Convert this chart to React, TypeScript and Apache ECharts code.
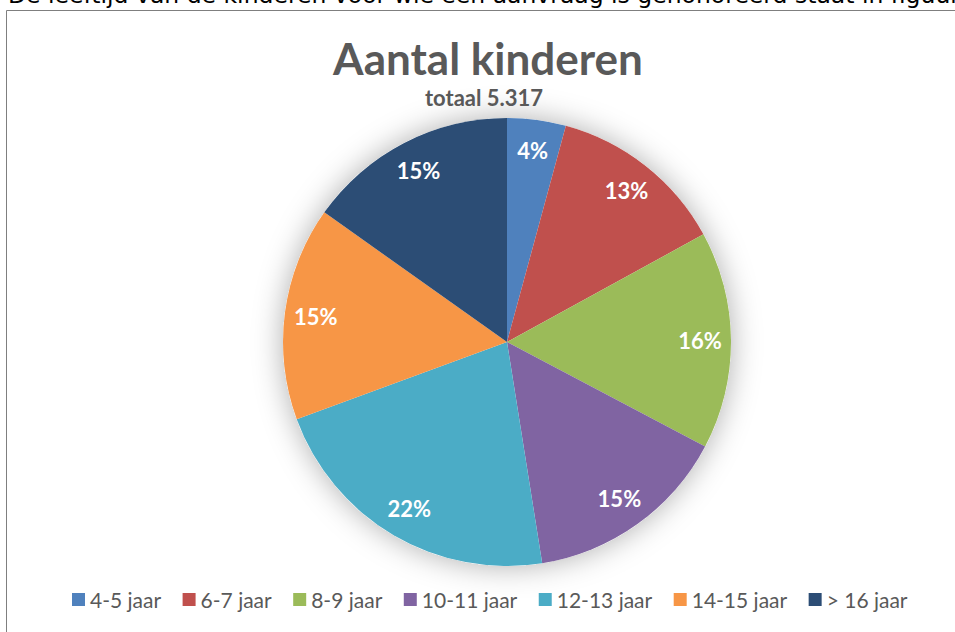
import React, { useEffect, useRef } from "react";
import * as echarts from "echarts";

const categories = ["4-5 jaar", "6-7 jaar", "8-9 jaar", "10-11 jaar", "12-13 jaar", "14-15 jaar", "> 16 jaar"];
const counts = [225, 680, 835, 785, 1165, 820, 807];
const colors = ["#4F81BD", "#C0504D", "#9BBB59", "#8064A2", "#4BACC6", "#F79646", "#2C4D75"];
const titleText = "Aantal kinderen";
const subtitleText = "totaal 5.317";
const pageText = "De leeftijd van de kinderen voor wie een aanvraag is gehonoreerd staat in figuur 3.";

export default function App() {
  const ref = useRef<HTMLDivElement>(null);
  useEffect(() => {
    const chart = echarts.init(ref.current!, null, { renderer: "svg" });
    const data = categories.map((c, i) => ({ name: c, value: counts[i], itemStyle: { color: colors[i] } }));
    chart.setOption({
      animation: false,
      backgroundColor: "#ffffff",
      graphic: [
        {
          type: "text",
          left: 8,
          top: -17,
          style: { text: pageText, font: "23.5px 'DejaVu Sans'", fill: "#000" },
          z: 10,
        },
        {
          type: "rect",
          shape: { x: 6.5, y: 10.5, width: 1000, height: 1000 },
          style: { fill: "none", stroke: "#7f7f7f", lineWidth: 1 },
          z: 10,
        },
        {
          type: "text",
          x: 488,
          y: 58,
          style: { text: titleText, font: "bold 44px Lato", fill: "#595959", align: "center", verticalAlign: "middle" },
          z: 10,
        },
        {
          type: "text",
          x: 484,
          y: 97,
          style: { text: subtitleText, font: "bold 22px Lato", fill: "#595959", align: "center", verticalAlign: "middle" },
          z: 10,
        },
      ],
      legend: {
        data: categories,
        orient: "horizontal",
        left: 72,
        top: 589,
        padding: 0,
        icon: "rect",
        itemWidth: 13,
        itemHeight: 13,
        itemGap: 21.5,
        textStyle: { fontFamily: "Lato", fontSize: 21, color: "#595959" },
        selectedMode: false,
      },
      series: [
        {
          type: "pie",
          center: [507, 342],
          radius: 224,
          silent: true,
          label: { show: false },
          labelLine: { show: false },
          itemStyle: { color: "#ffffff", shadowBlur: 30, shadowColor: "rgba(0,0,0,0.32)" },
          data: [{ value: 1, name: "" }],
          z: 1,
        },
        {
          type: "pie",
          center: [507, 342],
          radius: 224,
          startAngle: 90,
          clockwise: true,
          label: { show: false },
          labelLine: { show: false },
          itemStyle: { borderWidth: 0 },
          data,
          z: 2,
        },
        {
          type: "pie",
          center: [507, 342],
          radius: [156, 224],
          startAngle: 90,
          clockwise: true,
          silent: true,
          legendHoverLink: false,
          itemStyle: { color: "rgba(0,0,0,0)" },
          label: {
            show: true,
            position: "inside",
            formatter: (p: any) => Math.round(p.percent) + "%",
            color: "#ffffff",
            fontFamily: "Lato",
            fontWeight: "bold",
            fontSize: 22,
          },
          labelLine: { show: false },
          data: categories.map((c, i) => ({ name: c, value: counts[i] })),
          z: 3,
        },
      ],
    });
    return () => chart.dispose();
  }, []);
  return (
    <div style={{ position: "fixed", left: 0, top: 0, width: 955, height: 632, overflow: "hidden", background: "#fff" }}>
      <div ref={ref} style={{ width: 955, height: 632 }} />
    </div>
  );
}
